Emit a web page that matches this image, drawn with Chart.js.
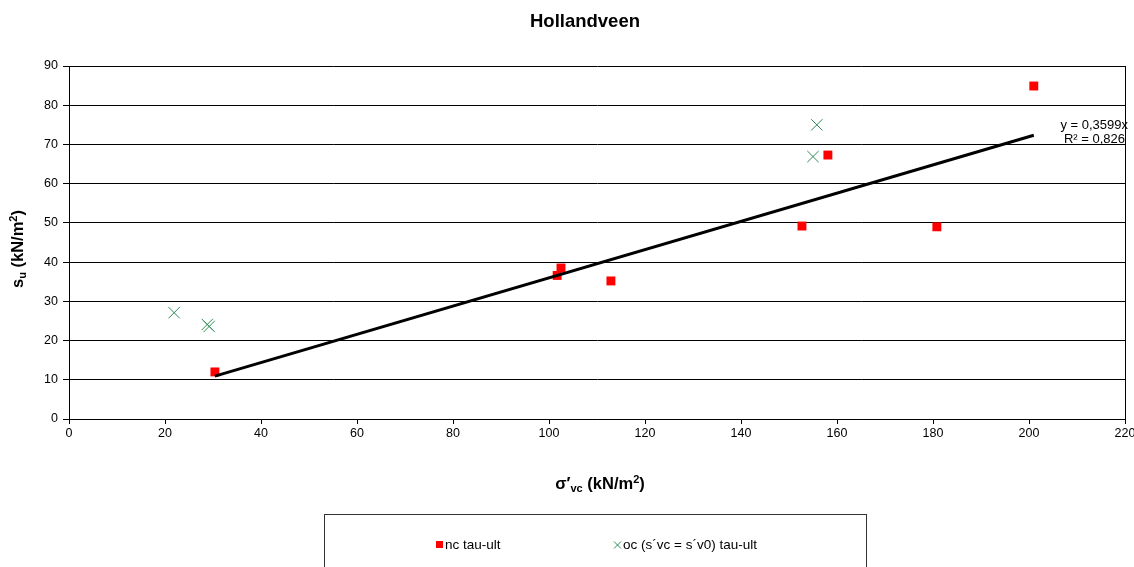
<!DOCTYPE html>
<html>
<head>
<meta charset="utf-8">
<script src="https://cdn.jsdelivr.net/npm/chart.js@4.4.0/dist/chart.umd.min.js"></script>
<style>
  body { margin: 0; background: #fff; }
  #wrap { width: 1134px; height: 567px; position: relative; }
</style>
</head>
<body>
<div id="wrap"><canvas id="chart_su"></canvas></div>
<script>
(function(){
  'use strict';

  // values
  var ncX = [30.4, 101.7, 102.5, 112.9, 152.7, 158.1, 180.8, 201.0];
  var ncY = [12.0, 36.6, 38.5, 35.2, 49.2, 67.3, 49.0, 84.9];
  var ocX = [21.9, 28.8, 29.2, 155.0, 155.8];
  var ocY = [27.1, 24.1, 23.6, 66.9, 75.0];
  var slope = 0.3599;
  var r2 = '0,826';
  var xTicks = [0, 20, 40, 60, 80, 100, 120, 140, 160, 180, 200, 220];
  var yTicks = [0, 10, 20, 30, 40, 50, 60, 70, 80, 90];

  var FONT = 'Arial, "Liberation Sans", sans-serif';

  function pts(xs, ys) {
    return xs.map(function(x, i){ return {x: x, y: ys[i]}; });
  }
  var xmin = Math.min.apply(null, ncX), xmax = Math.max.apply(null, ncX);
  var trend = [{x: xmin, y: slope * xmin}, {x: xmax, y: slope * xmax}];

  // text with sub/superscripts, parts = [text, size, dy]
  function richText(c, parts, cx, baseY) {
    var w = 0;
    parts.forEach(function(p){ c.font = 'bold ' + p[1] + 'px ' + FONT; w += c.measureText(p[0]).width; });
    var x0 = cx - w / 2;
    parts.forEach(function(p){
      c.font = 'bold ' + p[1] + 'px ' + FONT;
      c.fillText(p[0], x0, baseY + p[2]);
      x0 += c.measureText(p[0]).width;
    });
  }

  var decor = {
    id: 'decor',
    afterDraw: function(chart){
      var c = chart.ctx, a = chart.chartArea;
      c.save();
      // right border
      c.strokeStyle = '#000'; c.lineWidth = 1;
      c.beginPath(); c.moveTo(a.right + 0.5, a.top); c.lineTo(a.right + 0.5, a.bottom); c.stroke();

      c.fillStyle = '#000';
      // title
      c.font = 'bold 18.5px ' + FONT;
      c.textAlign = 'center'; c.textBaseline = 'middle';
      c.fillText('Hollandveen', 585, 22);

      c.textAlign = 'left'; c.textBaseline = 'alphabetic';
      // y title, rotated
      c.save();
      c.translate(17, 249);
      c.rotate(-Math.PI / 2);
      richText(c, [['s', 16.5, 0], ['u', 11, 3], [' (kN/m', 16.5, 0], ['2', 11, -6], [')', 16.5, 0]], 0, 6);
      c.restore();

      // x title
      richText(c, [['σ′', 16.5, 0], ['vc', 11, 3], [' (kN/m', 16.5, 0], ['2', 11, -6], [')', 16.5, 0]], 600, 489);

      // trendline label
      c.font = '13px ' + FONT;
      c.textAlign = 'right'; c.textBaseline = 'middle';
      c.fillText('y = ' + String(slope).replace('.', ',') + 'x', 1128, 125);
      c.fillText('R² = ' + r2, 1125, 139);

      // legend box
      c.strokeStyle = '#333'; c.lineWidth = 1;
      c.strokeRect(324.5, 514.5, 542, 60);
      c.font = '13.5px ' + FONT;
      c.fillStyle = '#ff0000';
      c.fillRect(436, 541, 7, 7);
      c.fillStyle = '#000';
      c.textAlign = 'left';
      c.fillText('nc tau-ult', 445, 545);
      c.strokeStyle = '#2e8b57';
      c.beginPath();
      c.moveTo(614, 541.5); c.lineTo(621, 548.5);
      c.moveTo(621, 541.5); c.lineTo(614, 548.5);
      c.stroke();
      c.fillText('oc (s´vc = s´v0) tau-ult', 623, 545);
      c.restore();
    }
  };

  var data = {
    datasets: [{
      label: 'nc tau-ult',
      data: pts(ncX, ncY),
      pointStyle: 'rect',
      pointRadius: 6.3,
      backgroundColor: '#ff0000',
      borderColor: '#ff0000',
      borderWidth: 0,
      showLine: false,
      order: 2
    }, {
      label: 'oc (s´vc = s´v0) tau-ult',
      data: pts(ocX, ocY),
      pointStyle: 'crossRot',
      pointRadius: 8,
      borderColor: '#2e8b57',
      borderWidth: 1,
      showLine: false,
      order: 3
    }, {
      label: 'trend',
      data: trend,
      showLine: true,
      borderColor: '#000',
      borderWidth: 3,
      pointRadius: 0,
      order: 1
    }]
  };

  var options = {
    responsive: true,
    maintainAspectRatio: false,
    animation: false,
    layout: { padding: { left: 0, right: 9, top: 66, bottom: 0 } },
    plugins: { legend: { display: false }, tooltip: { enabled: false } },
    scales: {
      x: {
        type: 'linear', min: 0, max: 220,
        afterBuildTicks: function(s){ s.ticks = xTicks.map(function(v){ return {value: v}; }); },
        afterFit: function(s){ s.height = 148; s.paddingLeft = 0; s.paddingRight = 0; },
        grid: { drawOnChartArea: false, color: '#000', tickLength: 5, tickColor: '#000' },
        border: { color: '#000', width: 1 },
        ticks: { color: '#000', font: { family: FONT, size: 12.5 }, padding: 2, maxRotation: 0 }
      },
      y: {
        type: 'linear', min: 0, max: 90,
        afterBuildTicks: function(s){ s.ticks = yTicks.map(function(v){ return {value: v}; }); },
        afterFit: function(s){ s.width = 69; },
        grid: { color: '#000', lineWidth: 1, tickLength: 6, tickColor: '#000' },
        border: { color: '#000', width: 1 },
        ticks: { color: '#000', font: { family: FONT, size: 12.5 }, padding: 5 }
      }
    }
  };

  var ctx = document.getElementById('chart_su').getContext('2d');
  var myChart = new Chart(ctx, {
    type: 'scatter',
    data: data,
    options: options,
    plugins: [decor]
  });
})();
</script>
</body>
</html>
